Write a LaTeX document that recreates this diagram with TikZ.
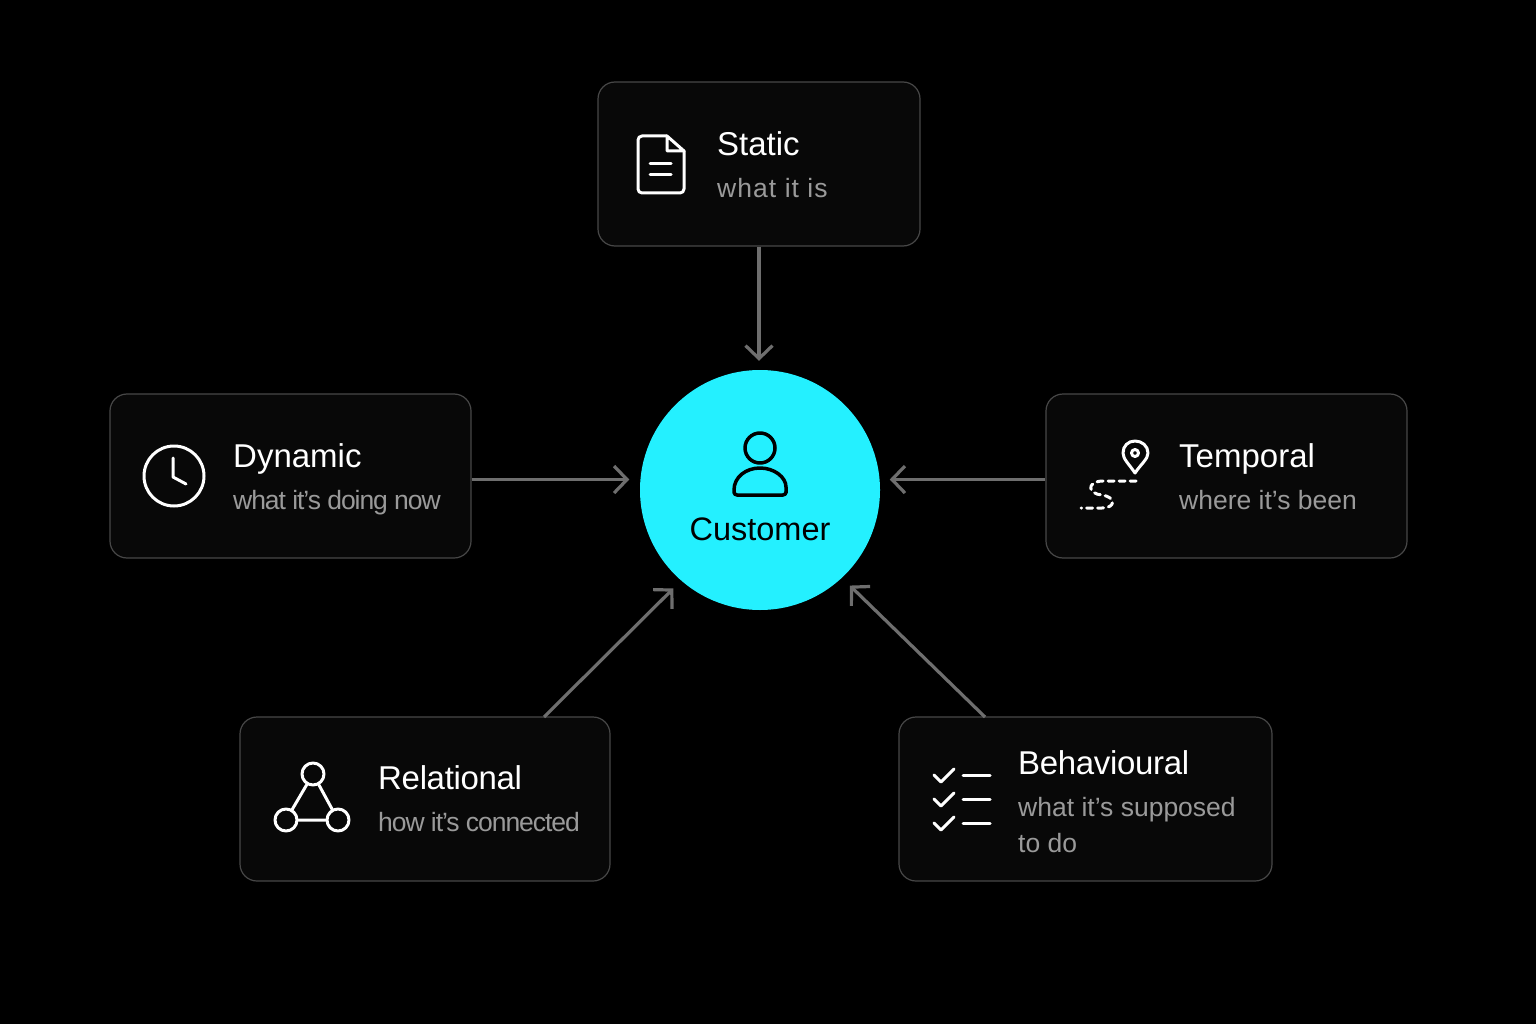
\documentclass[tikz,border=0pt]{standalone}
\usepackage{xcolor}
\usepackage{fontspec}
\setmainfont{Liberation Sans}
\usetikzlibrary{arrows.meta, positioning}
\definecolor{cardfill}{HTML}{080808}
\definecolor{cardline}{HTML}{474747}
\definecolor{subtext}{HTML}{9A9A9A}
\definecolor{arrowgrey}{HTML}{6E6E6E}
\definecolor{customercyan}{HTML}{24F0FF}
\newcommand{\tightsub}{\addfontfeature{LetterSpace=-4}}
\newcommand{\widesub}{\addfontfeature{LetterSpace=4}}
\tikzstyle{arrow} = [line width=3.2pt, arrowgrey, -{Straight Barb[length=13pt, width=27pt]}]

\begin{document}
\begin{tikzpicture}[x=1pt, y=-1pt]
	% Define styles for the different elements of the diagram
	\tikzstyle{card} = [rectangle, draw=cardline, fill=cardfill, line width=1.2pt, rounded corners=17pt, minimum height=164pt]
	\tikzstyle{cardtitle} = [anchor=base west, inner sep=0pt, text=white, font=\fontsize{33}{38}\selectfont]
	\tikzstyle{cardsub} = [anchor=base west, inner sep=0pt, text=subtext, font=\fontsize{26.5}{32}\selectfont]
	\tikzstyle{icon} = [draw=white, line width=3pt, line cap=round, line join=round]
	\tikzstyle{personicon} = [draw=black, line width=3.5pt, line cap=round, line join=round]

	% Canvas
	\fill[black] (0,0) rectangle (1536,1024);
	\useasboundingbox (0,0) rectangle (1536,1024);

	% Customer
	\node[circle, fill=customercyan, minimum size=240pt, inner sep=0pt] (customer) at (760,490) {};
	\node[anchor=base, inner sep=0pt, text=black, font=\fontsize{32.5}{38}\selectfont] (customerlabel) at (760,540) {Customer};
	\draw[personicon] (760,448) circle (15);
	\draw[personicon, rounded corners=3pt] (734,495) -- (786,495) -- (786,490) [sharp corners] .. controls (786,477) and (774,468) .. (760,468) .. controls (746,468) and (734,477) .. (734,490) [rounded corners=3pt] -- (734,495) -- cycle;

	% Cards
	\node[card, minimum width=322pt] (static) at (759,164) {};
	\node[card, minimum width=361pt] (dynamic) at (290.5,476) {};
	\node[card, minimum width=361pt] (temporal) at (1226.5,476) {};
	\node[card, minimum width=370pt] (relational) at (425,799) {};
	\node[card, minimum width=373pt] (behavioural) at (1085.5,799) {};

	% Static
	\node[cardtitle] (statictitle) at (717,156) {Static};
	\node[cardsub] (staticsub) at (717,198) {\widesub what it is};
	\draw[icon, rounded corners=4pt] (667,136) -- (638,136) -- (638,193) -- (684,193) -- (684,151);
	\draw[icon] (684,151) -- (667,136) -- (667,151) -- (684,151);
	\draw[icon] (650,164) -- (671,164) (650,175) -- (671,175);

	% Dynamic
	\node[cardtitle] (dynamictitle) at (233,467) {Dynamic};
	\node[cardsub] (dynamicsub) at (233,509) {\tightsub what it’s doing now};
	\draw[icon] (174,476) circle (30);
	\draw[icon] (173,458) -- (173,477) -- (186,484);

	% Temporal
	\node[cardtitle] (temporaltitle) at (1179,467) {Temporal};
	\node[cardsub] (temporalsub) at (1179,509) {where it’s been};
	\draw[icon] (1135,473) .. controls (1129,464) and (1123,459) .. (1123,453) .. controls (1123,446) and (1128,441) .. (1135,441) .. controls (1142,441) and (1148,446) .. (1148,453) .. controls (1148,459) and (1141,464) .. (1135,473) -- cycle;
	\draw[icon] (1135,453) circle (3.5);
	\draw[icon, dash pattern=on 6pt off 5pt] (1136,481) -- (1102,481) .. controls (1086,482) and (1088,494) .. (1102,495) .. controls (1116,497) and (1116,508) .. (1102,508) -- (1081,508);

	% Relational
	\node[cardtitle] (relationaltitle) at (378,789) {\addfontfeature{LetterSpace=-1}Relational};
	\node[cardsub] (relationalsub) at (378,831) {\tightsub how it’s connected};
	\node[circle, icon, minimum size=22pt, inner sep=0pt] (reltop) at (313,774) {};
	\node[circle, icon, minimum size=22pt, inner sep=0pt] (relleft) at (286,820) {};
	\node[circle, icon, minimum size=22pt, inner sep=0pt] (relright) at (338,820) {};
	\draw[icon] (reltop) -- (relleft) -- (relright) -- (reltop);

	% Behavioural
	\node[cardtitle] (behaviouraltitle) at (1018,774) {\addfontfeature{LetterSpace=-1}Behavioural};
	\node[cardsub] (behaviouralsub) at (1018,816) {what it’s supposed};
	\node[cardsub] (behaviouralsubtwo) at (1018,852) {to do};
	\foreach \rowy in {775,799,823} {
		\draw[icon] (934,\rowy) -- (941,\rowy+7) -- (954,\rowy-6);
		\draw[icon] (963,\rowy) -- (990,\rowy);
	}

	% Arrows
	\draw[arrow, shorten >=9pt] (static.south) -- (static.south |- customer.north);
	\draw[arrow, shorten >=11pt] (dynamic.east |- customer.175) -- (customer.175);
	\draw[arrow, shorten >=10pt] (temporal.west |- customer.5) -- (customer.5);
	\coordinate (relationalstart) at (544,717);
	\coordinate (behaviouralstart) at (985,717);
	\draw[arrow, shorten >=11pt] (relationalstart) -- (customer.229);
	\draw[arrow, shorten >=11pt] (behaviouralstart) -- (customer.313);
\end{tikzpicture}
\end{document}
